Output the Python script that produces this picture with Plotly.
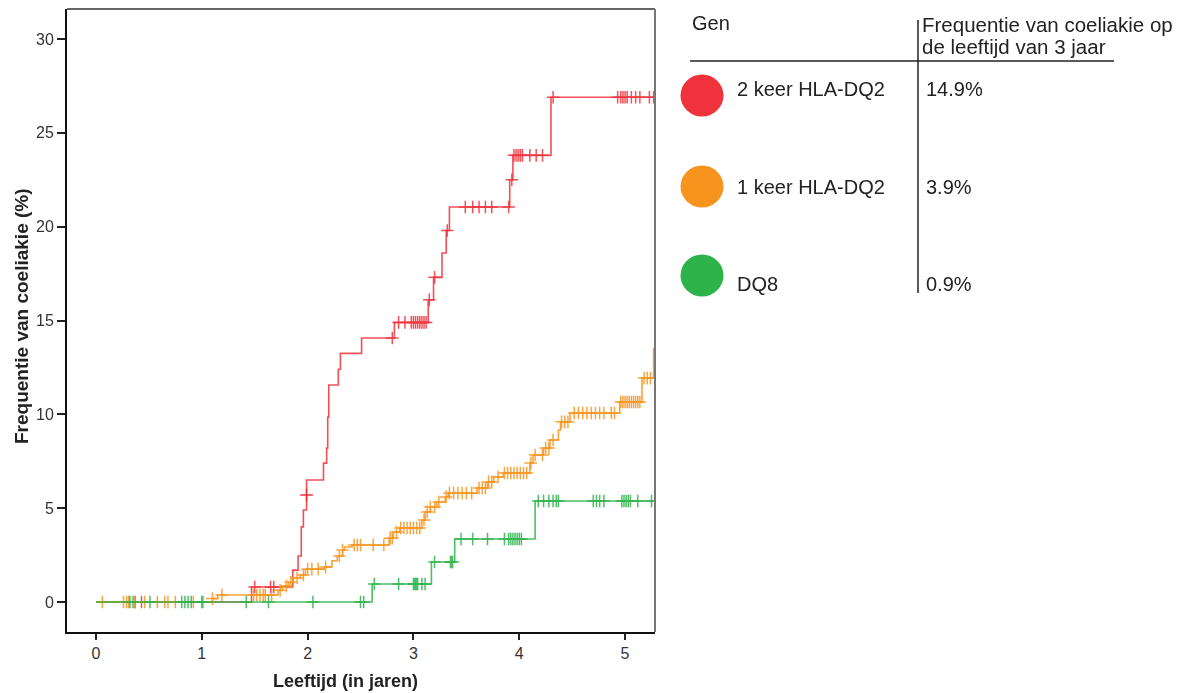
import plotly.graph_objects as go

# ---------------- data ----------------
# Kaplan-Meier style step curves (time in years, cumulative frequency in %)
red_t = [0, 1.47, 1.86, 1.91, 1.94, 1.96, 1.99, 2.15, 2.18, 2.19, 2.20, 2.29, 2.31, 2.51, 2.82,
         3.14, 3.19, 3.27, 3.31, 3.34, 3.91, 3.94, 4.30, 5.28]
red_v = [0, 0.8, 1.7, 2.45, 4.0, 4.9, 6.5, 7.4, 8.2, 9.85, 11.56, 12.4, 13.25, 14.07, 14.9,
         16.1, 17.3, 18.6, 19.8, 21.05, 22.5, 23.8, 26.9, 26.9]
red_cens = [0.37, 0.43, 1.50, 1.65, 1.68, 2.80, 2.86, 2.92, 2.98, 3.00, 3.02, 3.04, 3.06, 3.08,
            3.10, 3.12, 3.15, 3.20, 3.32, 3.49, 3.56, 3.62, 3.68, 3.74, 3.90, 3.93, 3.95, 3.97,
            3.99, 4.01, 4.03, 4.10, 4.16, 4.22, 4.32, 4.93, 4.96, 4.98, 5.00, 5.02, 5.06, 5.10,
            5.14, 5.23, 5.27]
red_extra_t = [1.99]
red_extra_v = [5.7]

orange_t = [0, 1.10, 1.15, 1.72, 1.76, 1.82, 1.86, 1.93, 1.98, 2.16, 2.23, 2.28, 2.33, 2.35, 2.42,
            2.77, 2.81, 2.87, 3.08, 3.11, 3.16, 3.22, 3.30, 3.33, 3.60, 3.70, 3.76, 3.85, 4.10,
            4.13, 4.23, 4.29, 4.37, 4.39, 4.48, 4.95, 5.16, 5.27, 5.28]
orange_v = [0, 0.18, 0.37, 0.62, 0.85, 1.05, 1.28, 1.44, 1.75, 1.87, 2.2, 2.45, 2.77, 2.93, 3.04,
            3.4, 3.73, 3.94, 4.37, 4.8, 5.06, 5.33, 5.6, 5.8, 6.07, 6.4, 6.66, 6.87, 7.4,
            7.83, 8.2, 8.63, 9.16, 9.6, 10.07, 10.66, 11.93, 13.5, 13.5]
orange_cens = [0.06, 0.26, 0.29, 0.31, 0.37, 0.46, 0.58, 0.65, 0.68, 0.75, 0.92, 1.10,
               1.19, 1.49, 1.52, 1.55, 1.58, 1.60, 1.66, 1.74, 1.80, 1.84, 1.90, 1.96, 2.00,
               2.04, 2.10, 2.17, 2.30, 2.33, 2.44, 2.47, 2.50, 2.62, 2.72, 2.78, 2.80, 2.84,
               2.88, 2.91, 2.94, 2.97, 3.00, 3.03, 3.06, 3.10, 3.13, 3.16, 3.20, 3.24, 3.31,
               3.34, 3.38, 3.42, 3.46, 3.50, 3.55, 3.62, 3.65, 3.68, 3.71, 3.74, 3.80, 3.86,
               3.89, 3.92, 3.95, 3.98, 4.01, 4.04, 4.07, 4.11, 4.15, 4.22, 4.25, 4.28, 4.32,
               4.40, 4.43, 4.46, 4.52, 4.56, 4.60, 4.64, 4.68, 4.72, 4.76, 4.80, 4.87, 4.90,
               4.96, 4.98, 5.00, 5.02, 5.04, 5.06, 5.08, 5.10, 5.12, 5.14, 5.18, 5.21, 5.24]

green_t = [0, 2.61, 3.17, 3.39, 4.15, 5.28]
green_v = [0, 0.96, 2.13, 3.36, 5.38, 5.38]
green_cens = [0.32, 0.35, 0.51, 0.81, 0.84, 0.87, 0.90, 1.00, 1.01, 1.42, 1.63, 2.05, 2.50, 2.53,
              2.63, 2.86, 3.00, 3.01, 3.02, 3.03, 3.04, 3.08, 3.11, 3.20, 3.35, 3.36, 3.37,
              3.45, 3.56, 3.70, 3.86, 3.90, 3.92, 3.94, 3.96, 3.98, 4.00, 4.02, 4.18, 4.23,
              4.28, 4.32, 4.35, 4.37, 4.70, 4.73, 4.76, 4.80, 4.97, 4.99, 5.01, 5.03, 5.05,
              5.12, 5.25]

groups = ["2 keer HLA-DQ2", "1 keer HLA-DQ2", "DQ8"]
freq_3y = ["14.9%", "3.9%", "0.9%"]
colors = ["#F0323C", "#F7941D", "#2DB34A"]

x_ticks = [0, 1, 2, 3, 4, 5]
y_ticks = [0, 5, 10, 15, 20, 25, 30]
x_title = "Leeftijd (in jaren)"
y_title = "Frequentie van coeliakie (%)"
legend_head = ["Gen", "Frequentie van coeliakie op", "de leeftijd van 3 jaar"]


def step_value(ts, vs, t):
    val = vs[0]
    for ti, vi in zip(ts, vs):
        if ti <= t:
            val = vi
    return val


FONT = "Liberation Sans, Arial, sans-serif"

fig = go.Figure()
series = [(red_t, red_v, red_cens), (orange_t, orange_v, orange_cens), (green_t, green_v, green_cens)]
for (ts, vs, cens), col, name in zip(series, colors, groups):
    fig.add_trace(go.Scatter(x=ts, y=vs, mode="lines", line=dict(color=col, width=1.6, shape="hv"),
                             opacity=0.85, name=name, showlegend=False, hoverinfo="skip"))
    fig.add_trace(go.Scatter(x=cens, y=[step_value(ts, vs, c) for c in cens], mode="markers",
                             marker=dict(symbol="cross-thin", size=9, line=dict(color=col, width=1.5)),
                             opacity=0.85, showlegend=False, hoverinfo="skip"))
fig.add_trace(go.Scatter(x=red_extra_t, y=red_extra_v, mode="markers",
                         marker=dict(symbol="cross-thin", size=9, line=dict(color=colors[0], width=1.5)),
                         showlegend=False, hoverinfo="skip"))

# page has an 8px body margin; positions below are in screenshot pixels
OFF = 8
L, R, T, B = 67, 655, 9, 632
W, H = 1187 - OFF, 693 - OFF


def px(x):
    return (x - L) / (R - L)


def py(y):
    return (B - y) / (B - T)


shapes = [
    dict(type="line", xref="paper", yref="paper", x0=0, x1=1, y0=1, y1=1, line=dict(color="#666", width=2)),
    dict(type="line", xref="paper", yref="paper", x0=1, x1=1, y0=0, y1=1, line=dict(color="#777", width=2)),
    # legend table lines
    dict(type="line", xref="paper", yref="paper", x0=px(690), x1=px(1114), y0=py(61), y1=py(61),
         line=dict(color="#222", width=1.5)),
    dict(type="line", xref="paper", yref="paper", x0=px(918), x1=px(918), y0=py(20), y1=py(293),
         line=dict(color="#222", width=1.5)),
]
circle_y = [95.5, 186.5, 275.5]
for cy, col in zip(circle_y, colors):
    shapes.append(dict(type="circle", xref="paper", yref="paper",
                       x0=px(702 - 21.5), x1=px(702 + 21.5), y0=py(cy + 21), y1=py(cy - 21),
                       fillcolor=col, line=dict(width=0)))

ann = []


def add_text(text, x, y, size=20, bold=False, anchor="left", angle=0):
    ann.append(dict(text=f"<b>{text}</b>" if bold else text, x=px(x), y=py(y), xref="paper", yref="paper",
                    xanchor=anchor, yanchor="middle", showarrow=False, textangle=angle,
                    font=dict(family=FONT, size=size, color="#222")))


add_text(legend_head[0], 690, 23)
add_text(legend_head[1], 920, 24, size=20.5)
add_text(legend_head[2], 920, 47, size=20.5)
label_y = [89.5, 186.7, 284]
for g, f, yy in zip(groups, freq_3y, label_y):
    add_text(g, 735, yy)
    add_text(f, 924, yy)

add_text(x_title, 345, 681, size=18, bold=True, anchor="center")
add_text(y_title, 21, 316, size=19, bold=True, anchor="center", angle=-90)

fig.update_layout(
    width=W, height=H, margin=dict(l=L - OFF, r=W - (R - OFF), t=T - OFF, b=H - (B - OFF)),
    paper_bgcolor="white", plot_bgcolor="white",
    shapes=shapes, annotations=ann, showlegend=False,
    font=dict(family=FONT, color="#333"),
    xaxis=dict(range=[-0.274, 5.283], tickvals=x_ticks, ticks="outside", ticklen=6, tickwidth=1.5,
               tickcolor="#222", showline=True, linecolor="#111", linewidth=2, showgrid=False,
               zeroline=False, tickfont=dict(size=16, color="#333", family=FONT)),
    yaxis=dict(range=[-1.6, 31.6], tickvals=y_ticks, ticks="outside", ticklen=8, tickwidth=1.5,
               tickcolor="#222", showline=True, linecolor="#111", linewidth=2, showgrid=False,
               zeroline=False, tickfont=dict(size=16, color="#333", family=FONT)),
)

fig.write_html("out.html", post_script="document.body.style.overflow='hidden';")
